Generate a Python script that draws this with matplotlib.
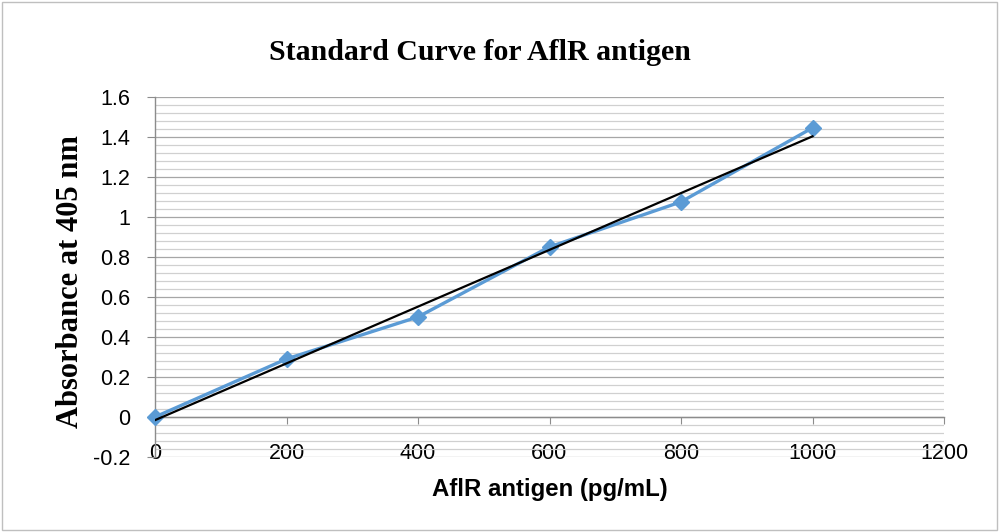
import numpy as np
import matplotlib
matplotlib.use("Agg")
import matplotlib.pyplot as plt
from matplotlib.ticker import MultipleLocator
from matplotlib.patches import Rectangle

# data
conc = [0, 200, 400, 600, 800, 1000]          # pg/mL
absorb = [0.0, 0.29, 0.50, 0.85, 1.075, 1.445]  # A405

x_ticks = [0, 200, 400, 600, 800, 1000, 1200]
y_ticks = [-0.2, 0, 0.2, 0.4, 0.6, 0.8, 1, 1.2, 1.4, 1.6]
y_tick_labels = ["-0.2", "0", "0.2", "0.4", "0.6", "0.8", "1", "1.2", "1.4", "1.6"]

fig = plt.figure(figsize=(10, 5.32), dpi=100)
ax = fig.add_axes([0.155, 0.141, 0.789, 0.677])

# chart border like the Excel chart area
fig.patches.append(Rectangle((0.002, 0.003), 0.995, 0.994, transform=fig.transFigure,
                             fill=False, ec="#BFBFBF", lw=1.0))

ax.set_xlim(0, 1200)
ax.set_ylim(-0.2, 1.6)

# gridlines
ax.yaxis.set_major_locator(MultipleLocator(0.2))
ax.yaxis.set_minor_locator(MultipleLocator(0.04))
ax.grid(which="major", axis="y", color="#A6A6A6", lw=0.9)
ax.grid(which="minor", axis="y", color="#D0D0D0", lw=0.9)
ax.set_axisbelow(True)

# data series + linear trendline
ax.plot(conc, absorb, color="#5B9BD5", lw=2.4, marker="D", ms=8,
        zorder=3, clip_on=False)
slope, icpt = np.polyfit(conc, absorb, 1)
xs = np.array([conc[0], conc[-1]])
ax.plot(xs, slope * xs + icpt, color="black", lw=1.6, zorder=4)

# axes styling
for s in ["top", "right"]:
    ax.spines[s].set_visible(False)
ax.spines["left"].set_color("#8C8C8C")
ax.spines["bottom"].set_color("#8C8C8C")
ax.spines["bottom"].set_position(("data", 0))
ax.spines["left"].set_linewidth(1.0)
ax.spines["bottom"].set_linewidth(1.0)

ax.set_xticks(x_ticks)
ax.set_xticklabels([str(v) for v in x_ticks])
ax.set_yticks(y_ticks)
ax.set_yticklabels(y_tick_labels)
ax.tick_params(axis="y", which="major", direction="out", length=6,
               color="#8C8C8C", pad=12, labelsize=15.5)
ax.tick_params(axis="y", which="minor", length=0)
ax.tick_params(axis="x", direction="out", length=5, color="#8C8C8C",
               pad=14, labelsize=15.5)
for lab in ax.get_xticklabels() + ax.get_yticklabels():
    lab.set_fontfamily("Liberation Sans")

fig.text(0.48, 0.902, "Standard Curve for AflR antigen", ha="center", va="center",
         fontsize=21.5, fontweight="bold", family="Liberation Serif")
fig.text(0.071, 0.47, "Absorbance at 405 nm", ha="center", va="center",
         rotation=90, fontsize=22, fontweight="bold", family="Liberation Serif")
fig.text(0.5495, 0.079, "AflR antigen (pg/mL)", ha="center", va="center",
         fontsize=17.3, fontweight="bold", family="Liberation Sans")

fig.savefig("out.png", dpi=100)
